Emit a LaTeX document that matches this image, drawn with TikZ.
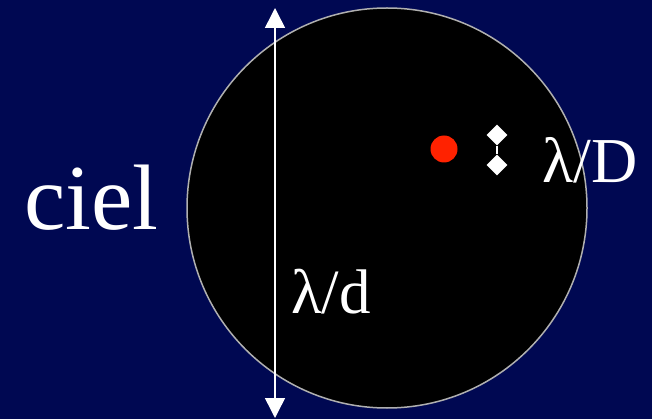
\documentclass[tikz,border=0pt]{standalone}
\usepackage{fontspec}
\setmainfont{Liberation Serif}
\usetikzlibrary{arrows.meta,shapes.geometric}
\definecolor{bg}{RGB}{0,8,82}
\definecolor{dotred}{RGB}{255,34,0}
\definecolor{rim}{RGB}{176,176,176}
\tikzset{
  lbl/.style={text=white, anchor=base west, inner sep=0pt},
  tick/.style={diamond, fill=white, minimum size=21pt, inner sep=0pt},
}
\begin{document}
\begin{tikzpicture}[x=1pt,y=-1pt]
\fill[bg] (0,0) rectangle (652,419);
\useasboundingbox (0,0) rectangle (652,419);
\node[circle, draw=rim, fill=black, line width=1.5pt, minimum size=400pt, inner sep=0pt] (sky) at (387,208) {};
\coordinate (atop) at (275,8);
\coordinate (abot) at (275,418);
\draw[white, line width=1.5pt, {Triangle[width=20pt,length=20pt]}-{Triangle[width=20pt,length=20pt]}] (atop) -- (abot);
\node[circle, fill=dotred, minimum size=27pt, inner sep=0pt] (star) at (444,149) {};
\node[tick] (d1) at (497,135) {};
\node[tick] (d2) at (497,165) {};
\draw[white, line width=1.5pt] (d1) -- (d2);
\node[lbl, font=\fontsize{93}{93}\selectfont] (ciel) at (24,230) {ciel};
\node[lbl, font=\fontsize{63}{63}\selectfont] (ld) at (291,313) {λ/d};
\node[lbl, font=\fontsize{64}{64}\selectfont] (lD) at (542,183) {λ/D};
\end{tikzpicture}
\end{document}
